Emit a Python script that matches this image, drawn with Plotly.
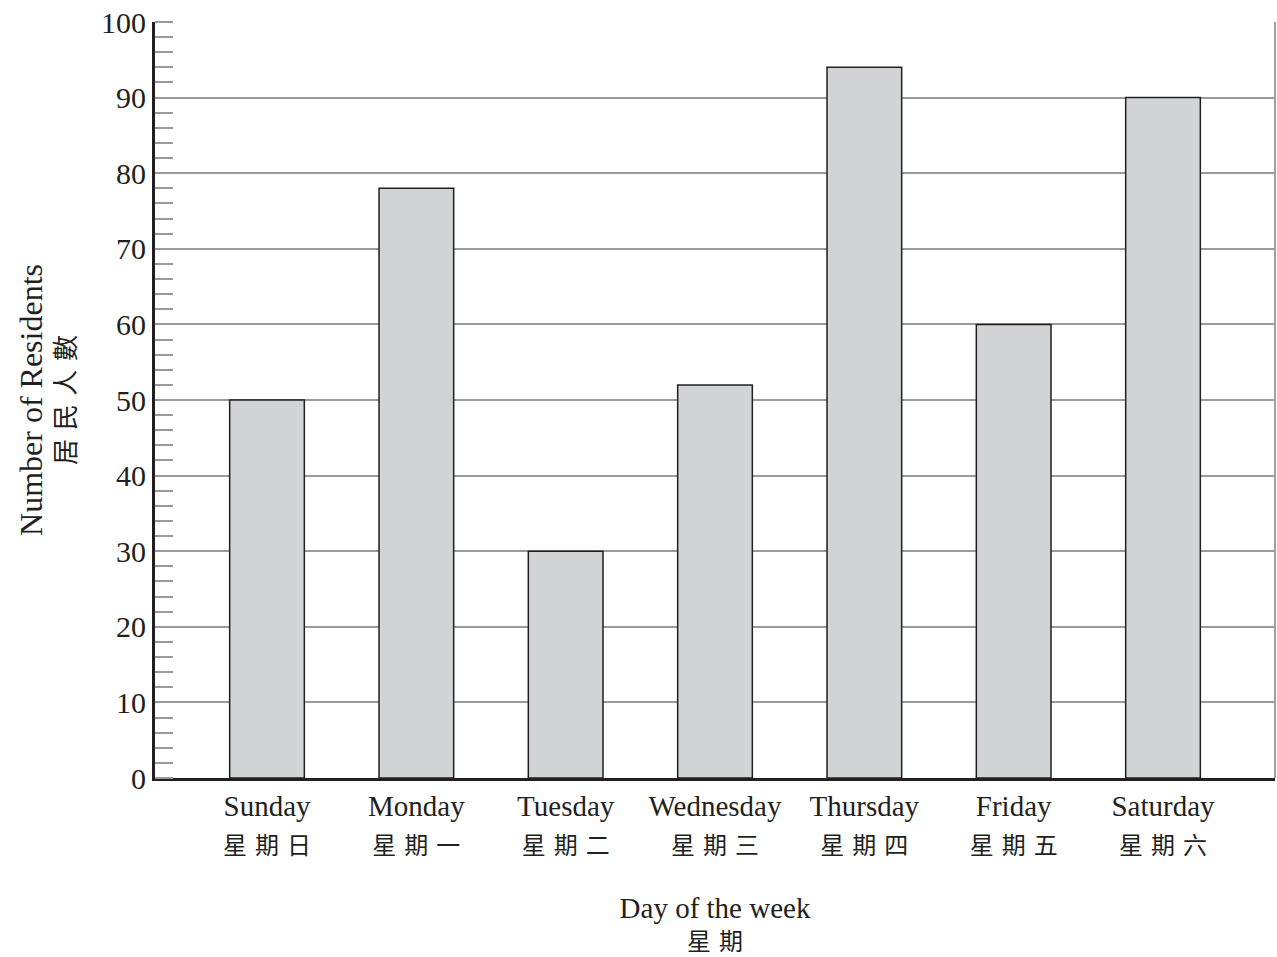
import plotly.graph_objects as go

days_en = ["Sunday", "Monday", "Tuesday", "Wednesday", "Thursday", "Friday", "Saturday"]
days_zh = ["星期日", "星期一", "星期二", "星期三", "星期四", "星期五", "星期六"]
residents = [50, 78, 30, 52, 94, 60, 90]
y_ticks = [0, 10, 20, 30, 40, 50, 60, 70, 80, 90, 100]

SERIF = "Liberation Serif, Times New Roman, serif"
CJK = "Noto Sans CJK TC"

def spaced(s):
    return "\u2004".join(s)

def zh_span(s, size=24):
    return f"<span style='font-family:{CJK};font-size:{size}px'>{spaced(s)}</span>"

def en_span(s, size):
    return f"<span style='font-size:{size}px'>{s}</span>"

tick_text = [f"{en}<br>{zh_span(zh)}" for en, zh in zip(days_en, days_zh)]

x_idx = list(range(len(days_en)))

fig = go.Figure(go.Bar(
    x=x_idx, y=residents, width=0.5,
    marker=dict(color="#d1d3d4", line=dict(color="#231f20", width=1.5)),
))

fig.update_layout(
    width=1277, height=957,
    margin=dict(l=155, r=2, t=22, b=179),
    paper_bgcolor="white", plot_bgcolor="white",
    showlegend=False,
    font=dict(family=SERIF, color="#231f20"),
    shapes=[dict(type="line", xref="x domain", yref="y domain", x0=1, x1=1, y0=0, y1=1,
                 line=dict(color="#a0a0a0", width=2), layer="above")],
)

fig.update_xaxes(
    range=[-0.75, 6.75], tickmode="array", tickvals=x_idx, ticktext=tick_text,
    tickfont=dict(size=29, family=SERIF), showgrid=False, ticks="",
    showline=True, linecolor="#231f20", linewidth=3,
    title=dict(text=f"{en_span('Day of the week', 29)}<br>{zh_span('星期')}",
               font=dict(size=25, family=SERIF), standoff=48),
    zeroline=False, fixedrange=True, automargin=False,
)

fig.update_yaxes(
    range=[0, 100], tickmode="array", tickvals=y_ticks,
    tickfont=dict(size=30, family=SERIF), showgrid=True, gridcolor="#9a9a9a", gridwidth=1.5,
    ticks="", showline=True, linecolor="#231f20", linewidth=3,
    minor=dict(ticks="inside", dtick=2, ticklen=18, tickcolor="#9a9a9a", tickwidth=1.5, showgrid=False),
    title=dict(text=f"{en_span('Number of Residents', 32)}<br>{zh_span('居民人數', 26)}",
               font=dict(size=25, family=SERIF), standoff=19),
    zeroline=False, fixedrange=True, automargin=False,
)

fig.write_html("out.html", config={"displayModeBar": False},
               post_script="document.body.style.margin='0';")
